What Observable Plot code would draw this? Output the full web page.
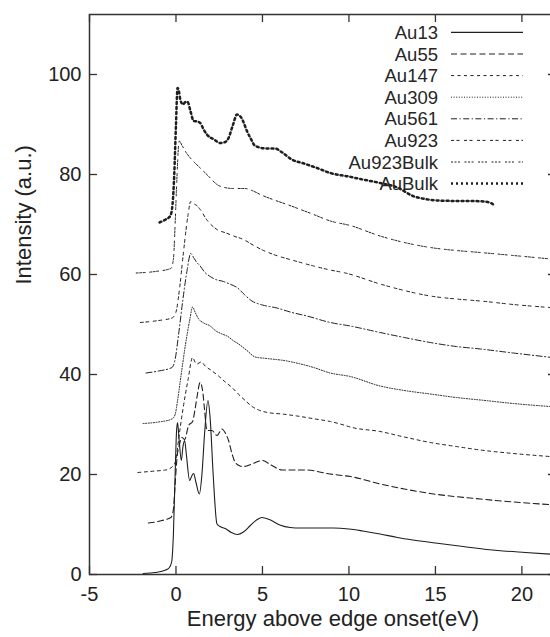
<!DOCTYPE html>
<html>
<head>
<meta charset="utf-8">
<script src="https://cdn.jsdelivr.net/npm/d3@7"></script>
<script src="https://cdn.jsdelivr.net/npm/@observablehq/plot@0.6"></script>
<style>
html, body { margin: 0; padding: 0; overflow: hidden; background: #fff; }
#chart { width: 556px; }
</style>
</head>
<body>
<div id="chart"></div>
<script>
// ---- data (x = energy above edge onset in eV, y = intensity in a.u., as plotted) ----
const seriesNames = ["Au13", "Au55", "Au147", "Au309", "Au561", "Au923", "Au923Bulk", "AuBulk"];

const au13 = [[-1.9,0.2],[-1.2,0.4],[-0.6,0.9],[-0.4,1.3],[-0.25,2.5],[-0.15,8],[-0.05,20],[0.03,28.5],[0.09,30.4],[0.18,27],[0.31,22.8],[0.4,25.5],[0.5,26.8],[0.6,24],[0.79,18.8],[0.9,19.6],[1.02,20.2],[1.15,18.5],[1.35,16.1],[1.5,20],[1.65,28],[1.85,34.8],[1.98,31],[2.15,20],[2.37,10.1],[2.6,9.5],[2.9,9.1],[3.2,8.4],[3.55,8.0],[3.9,8.5],[4.3,9.8],[4.7,11.0],[4.97,11.4],[5.4,11.0],[6.0,9.9],[6.6,9.4],[7.2,9.3],[8.0,9.3],[9.1,9.3],[10.0,9.1],[10.8,8.7],[11.8,8.1],[12.8,7.4],[13.7,6.9],[15.0,6.3],[16.6,5.6],[18.6,4.8],[20.2,4.4],[22,4.0]];

const au55 = [[-1.6,10.3],[-0.8,10.8],[-0.3,11.4],[-0.15,13],[-0.05,18],[0.06,23.4],[0.2,26],[0.35,27.4],[0.5,27],[0.73,29.8],[0.96,30.6],[1.1,33],[1.21,35.4],[1.4,38.4],[1.55,36.5],[1.65,33],[1.79,28.8],[2.08,28.8],[2.37,27.8],[2.66,29.1],[2.85,28.3],[3.04,26.8],[3.25,24],[3.43,22.4],[3.7,21.7],[3.91,21.6],[4.39,22.1],[4.97,22.8],[5.55,21.8],[6.13,20.9],[7.0,20.9],[7.5,20.9],[8.9,20.1],[9.6,19.8],[10.07,19.6],[11.8,18.1],[13.2,17.1],[14.7,16.2],[17.6,15.1],[19.5,14.5],[22,13.9]];

const au147 = [[-2.2,20.4],[-1.2,20.7],[-0.6,20.9],[-0.14,21.8],[0.0,23],[0.15,27],[0.4,33],[0.7,39],[0.96,43.4],[1.1,42.5],[1.21,42.1],[1.45,42.5],[1.69,41.7],[2.05,40.8],[2.46,39.7],[2.85,38.5],[3.24,37.4],[3.6,36.1],[4.0,34.8],[4.4,33.6],[4.78,32.9],[5.3,32.4],[6.13,32.1],[7.0,31.7],[8.05,31.1],[8.92,30.6],[9.79,29.8],[10.07,29.5],[11.8,28.6],[13.2,27.5],[14.7,26.4],[16.2,25.6],[17.6,24.9],[19.5,24.2],[22,23.5]];

const au309 = [[-1.9,30.2],[-1.0,30.5],[-0.23,31.1],[-0.05,32],[0.1,35],[0.3,40],[0.55,46],[0.8,51],[0.96,53.5],[1.1,52.5],[1.31,51.1],[1.6,50.3],[1.98,49.7],[2.27,48.8],[2.66,48.1],[2.95,47.7],[3.3,46.8],[3.62,46.1],[4.1,44.8],[4.58,43.5],[5.26,43.2],[6.42,42.7],[7.09,42.2],[7.96,41.4],[8.92,40.3],[10.07,39.6],[11.8,37.7],[13.2,36.8],[14.7,36.1],[16.2,35.4],[17.6,34.9],[19.5,34.2],[22,33.5]];

const au561 = [[-1.73,40.3],[-1.0,40.7],[-0.23,41.4],[-0.05,43],[0.15,48],[0.4,55],[0.65,61],[0.85,64.2],[1.05,63.2],[1.21,62.4],[1.4,61.7],[1.65,60.5],[1.98,59.6],[2.3,59.0],[2.75,58.6],[3.1,58.1],[3.53,57.4],[3.95,56.0],[4.39,54.7],[5.0,53.9],[5.84,53.3],[6.6,52.5],[7.57,51.7],[8.92,50.4],[10.07,49.7],[11.8,48.4],[13.2,47.4],[14.7,46.4],[16.2,45.6],[17.6,45.1],[19.5,44.3],[22,43.3]];

const au923 = [[-2.06,50.4],[-1.0,50.8],[-0.23,51.3],[0.0,52.5],[0.2,57],[0.45,65],[0.7,72],[0.85,74.6],[1.0,74.2],[1.2,73.8],[1.4,73.0],[1.79,70.9],[2.37,69.0],[2.9,68.3],[3.33,67.7],[3.9,67.0],[4.5,65.8],[5.0,64.9],[5.64,64.0],[6.8,62.8],[7.96,61.7],[8.92,60.9],[9.79,60.3],[11.8,58.1],[13.2,56.8],[14.7,55.7],[16.2,55.1],[17.6,54.7],[19.5,54.0],[22,53.3]];

const au923Bulk = [[-2.3,60.3],[-1.2,60.6],[-0.3,61.2],[-0.15,63],[-0.05,70],[0.05,79],[0.19,86.7],[0.35,85.8],[0.55,84.6],[0.83,83.3],[1.1,82.3],[1.4,81.3],[1.9,79.6],[2.37,78.0],[2.8,77.4],[3.33,77.2],[4.0,77.2],[4.4,76.8],[4.87,76.0],[5.6,75.0],[6.42,74.0],[7.2,73.0],[7.96,72.0],[8.92,70.7],[10.07,69.8],[11.8,67.7],[13.2,66.4],[14.7,65.4],[16.2,64.8],[17.6,64.4],[19.5,63.8],[22,63.0]];

const auBulk = [[-0.95,70.4],[-0.6,71.0],[-0.33,71.7],[-0.2,74],[-0.1,80],[0.0,90],[0.09,97.3],[0.18,96.5],[0.25,95],[0.4,94],[0.55,94.5],[0.67,94.5],[0.85,92.5],[1.02,90.7],[1.2,90.6],[1.4,90.3],[1.6,89.0],[1.79,88.0],[2.2,87.0],[2.56,86.3],[2.85,86.5],[3.04,87.3],[3.3,90],[3.53,92],[3.75,91.5],[3.9,90.5],[4.1,88.7],[4.35,87],[4.58,85.7],[5.26,85.2],[5.74,85.2],[6.1,84.5],[6.7,83.0],[7.4,82.2],[8.15,81.3],[8.92,80.3],[9.98,79.6],[10.8,79.0],[11.8,78.3],[12.8,77.4],[13.7,75.7],[14.4,75.1],[15.1,74.8],[16.5,74.7],[17.0,74.7],[17.8,74.6],[18.2,74.3],[18.46,73.7]];

const seriesData = [au13, au55, au147, au309, au561, au923, au923Bulk, auBulk];

const xTicks = [-5, 0, 5, 10, 15, 20];
const yTicks = [0, 20, 40, 60, 80, 100];
const xLabel = "Energy above edge onset(eV)";
const yLabel = "Intensity (a.u.)";

// ---- styles (kept separate from the data) ----
const lineStyles = {
  Au13:      {dash: null,                      width: 1.1},
  Au55:      {dash: "6,3.5",                   width: 1.1},
  Au147:     {dash: "3,3.5",                   width: 1},
  Au309:     {dash: "1,1.6",                   width: 1},
  Au561:     {dash: "6,2.5,1.2,2.5",           width: 1},
  Au923:     {dash: "3,2.5,3,4.5",             width: 1},
  Au923Bulk: {dash: "2,1.5,2,1.5,2,4.5",       width: 1},
  AuBulk:    {dash: "2,3",                     width: 2.5}
};
const ink = "#1e1e1e";
const font = "'Liberation Sans', Arial, Helvetica, sans-serif";

const W = 556, H = 637;
const mL = 89, mR = 0, mT = 14, mB = 63;
const frameW = W - mL - mR, frameH = H - mT - mB;
const tickLen = 8;

const lineMarks = seriesNames.map((name, i) => {
  const s = lineStyles[name];
  const opts = {x: d => d[0], y: d => d[1], stroke: ink, strokeWidth: s.width, curve: "monotone-x"};
  if (s.dash) opts.strokeDasharray = s.dash;
  return Plot.line(seriesData[i], opts);
});

const plot = Plot.plot({
  width: W,
  height: H,
  marginLeft: mL, marginRight: mR, marginTop: mT, marginBottom: mB,
  x: {domain: [-5, 22]},
  y: {domain: [0, 112]},
  style: {fontFamily: font, fontSize: "20px", color: "#222", background: "white"},
  marks: [
    ...lineMarks,
    // inward ticks on all four sides
    Plot.tickX(xTicks, {x: d => d, insetTop: frameH - tickLen, stroke: "#333", strokeWidth: 1.3}),
    Plot.tickX(xTicks, {x: d => d, insetBottom: frameH - tickLen, stroke: "#333", strokeWidth: 1.3}),
    Plot.tickY(yTicks, {y: d => d, insetRight: frameW - tickLen, stroke: "#333", strokeWidth: 1.3}),
    Plot.tickY(yTicks, {y: d => d, insetLeft: frameW - tickLen, stroke: "#333", strokeWidth: 1.3}),
    Plot.axisX({ticks: xTicks, tickSize: 0, tickPadding: 12, tickFormat: d => String(d), label: null, fontSize: 20}),
    Plot.axisY({ticks: yTicks, tickSize: 0, tickPadding: 8, tickFormat: d => String(d), label: null, fontSize: 20}),
    Plot.frame({stroke: "#333", strokeWidth: 1.5}),
    Plot.text([xLabel], {text: d => d, frameAnchor: "bottom", dx: 10, dy: 51, fontSize: 22, fill: "#222"}),
    Plot.text([yLabel], {text: d => d, frameAnchor: "left", rotate: -90, dx: -66, dy: -10, fontSize: 22, fill: "#222"})
  ]
});

// ---- legend (inside the plot, top right) ----
const svg = d3.select(plot);
const lg = svg.append("g").attr("font-family", font).attr("font-size", 18.5).attr("fill", "#262626");
seriesNames.forEach((name, i) => {
  const y = 32.4 + i * 21.6;
  const s = lineStyles[name];
  lg.append("text").attr("x", 438).attr("y", y).attr("dy", "0.36em").attr("text-anchor", "end").text(name);
  const ln = lg.append("line").attr("x1", 451).attr("x2", 523).attr("y1", y).attr("y2", y)
    .attr("stroke", ink).attr("stroke-width", s.width);
  if (s.dash) ln.attr("stroke-dasharray", s.dash);
});

document.getElementById("chart").appendChild(plot);
</script>
</body>
</html>
